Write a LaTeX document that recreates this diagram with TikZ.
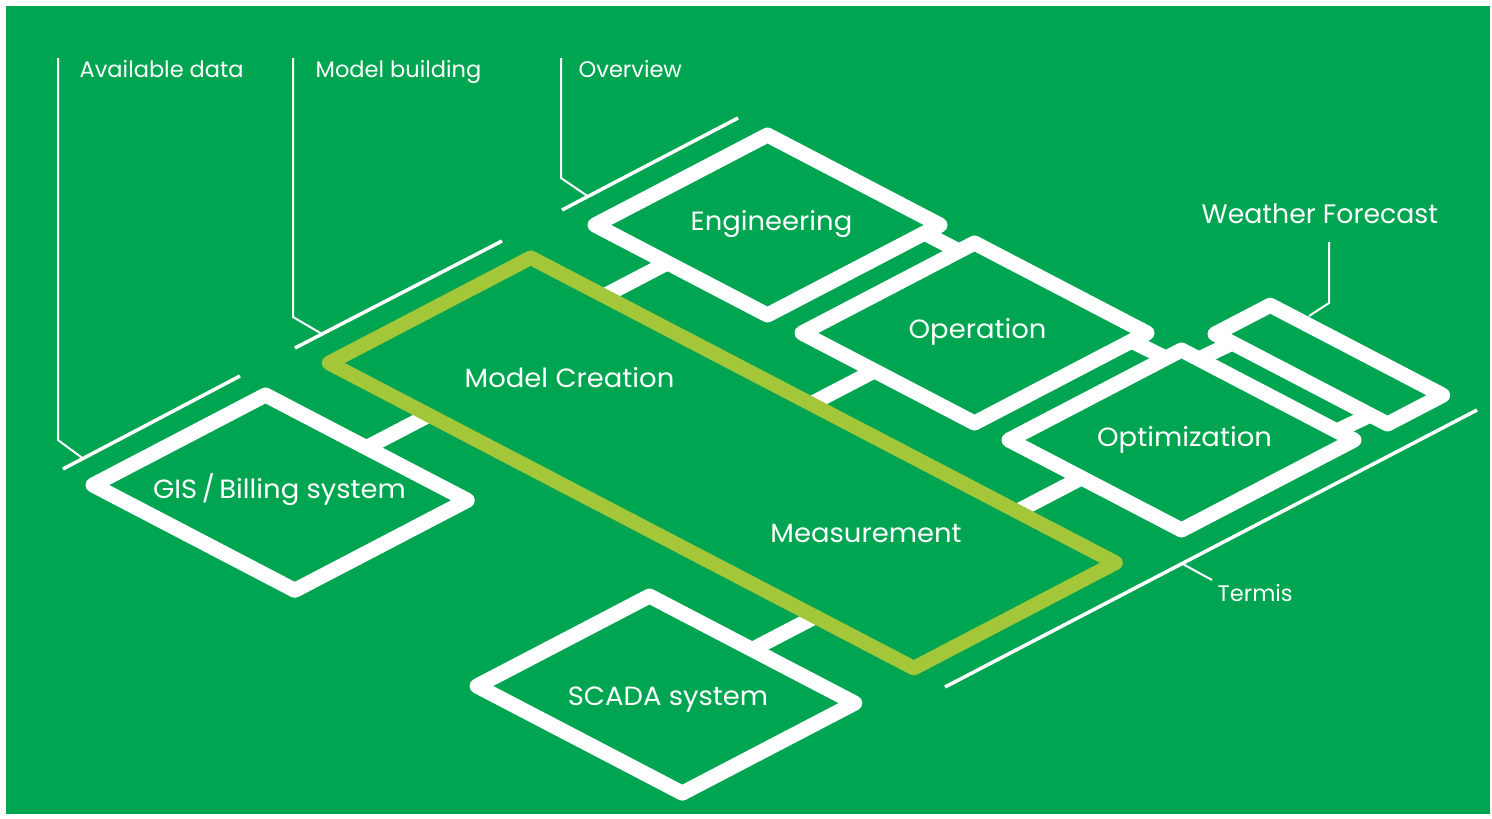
\documentclass[tikz,border=0pt]{standalone}
\usepackage{fontspec}
\setmainfont{Poppins}
\usetikzlibrary{calc}
\definecolor{bggreen}{RGB}{0,165,81}
\definecolor{limegreen}{RGB}{164,199,57}
\begin{document}
\begin{tikzpicture}[x=0.01cm,y=-0.01cm,
  boxline/.style={draw=white, line width=0.15cm, line join=round},
  linkbar/.style={draw=white, line width=0.15cm},
  limeline/.style={draw=limegreen, line width=0.145cm, line join=round},
  guideline/.style={draw=white, line width=0.035cm},
  leaderline/.style={draw=white, line width=0.02cm},
  boxlabel/.style={text=white, font=\fontsize{7.5}{9}\selectfont, xscale=1.04, inner sep=0pt, anchor=base},
  notelabel/.style={text=white, font=\fontsize{6.4}{7.5}\selectfont, inner sep=0pt, anchor=base west}]
\useasboundingbox (0,0) rectangle (1492,818);
\fill[bggreen] (6,6) rectangle (1490,814);

% ---- corner coordinates ----
\coordinate (E-l) at (595,225);   \coordinate (E-t) at (767.5,135);
\coordinate (E-r) at (940,225);   \coordinate (E-b) at (767.5,315);
\coordinate (O-l) at (802,333);   \coordinate (O-t) at (974.5,243);
\coordinate (O-r) at (1147,333);  \coordinate (O-b) at (974.5,423);
\coordinate (P-l) at (1009,440);  \coordinate (P-t) at (1181.5,350);
\coordinate (P-r) at (1354,440);  \coordinate (P-b) at (1181.5,530);
\coordinate (W-l) at (1215,334);  \coordinate (W-t) at (1270.2,305.2);
\coordinate (W-r) at (1442.7,395.2); \coordinate (W-b) at (1387.5,424);
\coordinate (M-l) at (329,363);   \coordinate (M-t) at (530.8,257.7);
\coordinate (M-r) at (1115.6,562.8); \coordinate (M-b) at (913.8,668.1);
\coordinate (G-l) at (93,485);    \coordinate (G-t) at (265.5,395);
\coordinate (G-r) at (467.3,500.3); \coordinate (G-b) at (294.8,590.3);
\coordinate (S-l) at (477,686);   \coordinate (S-t) at (649.5,596);
\coordinate (S-r) at (854.8,703.1); \coordinate (S-b) at (682.3,793.1);

% connector ends (to the lime frame)
\coordinate (cE) at (667.5,262.8);  \coordinate (mE) at (603.3,296.3);
\coordinate (cO) at (874.5,370.8);  \coordinate (mO) at (811,403.9);
\coordinate (cP) at (1081.5,477.8); \coordinate (mP) at (1017.2,511.4);
\coordinate (cG) at (366.4,447.7);  \coordinate (mG) at (428.5,415.3);
\coordinate (cS) at (752.1,649.6);  \coordinate (mS) at (815.2,616.7);
% connector ends between neighbouring boxes
\coordinate (eo1) at (924.5,233.1);  \coordinate (eo2) at (959,251.1);
\coordinate (op1) at (1131.5,341.1); \coordinate (op2) at (1166,358.1);
\coordinate (pw1) at (1198.8,359);   \coordinate (pw2) at (1232.3,343);
\coordinate (pw3) at (1336.8,431);   \coordinate (pw4) at (1370.3,415);

% ---- annotation guides ----
\coordinate (a1) at (63,469);  \coordinate (a2) at (240,376);
\coordinate (a0) at (58,58);   \coordinate (ak) at (58,440); \coordinate (ae) at (83,458.5);
\coordinate (b1) at (295,348); \coordinate (b2) at (502,241);
\coordinate (b0) at (293,58);  \coordinate (bk) at (293,317); \coordinate (be) at (322,334);
\coordinate (c1) at (562,210); \coordinate (c2) at (738,118);
\coordinate (c0) at (561,58);  \coordinate (ck) at (561,178); \coordinate (ce) at (588,196.4);
\coordinate (t1) at (945,687); \coordinate (t2) at (1477,410);
\coordinate (ts) at (1182,563.6); \coordinate (te) at (1212,580);
\coordinate (w0) at (1329,242); \coordinate (wk) at (1329,303); \coordinate (we) at (1309,316);

\draw[guideline] (a1) -- (a2);
\draw[guideline] (b1) -- (b2);
\draw[guideline] (c1) -- (c2);
\draw[guideline] (t1) -- (t2);
\draw[leaderline] (a0) -- (ak) -- (ae);
\draw[leaderline] (b0) -- (bk) -- (be);
\draw[leaderline] (c0) -- (ck) -- (ce);
\draw[leaderline] (ts) -- (te);
\draw[leaderline] (w0) -- (wk) -- (we);

% ---- connectors ----
\draw[linkbar] (cE) -- (mE);
\draw[linkbar] (cO) -- (mO);
\draw[linkbar] (cP) -- (mP);
\draw[linkbar] (cG) -- (mG);
\draw[linkbar] (cS) -- (mS);
\draw[linkbar] (eo1) -- (eo2);
\draw[linkbar] (op1) -- (op2);
\draw[linkbar] (pw1) -- (pw2);
\draw[linkbar] (pw3) -- (pw4);

% ---- boxes ----
\draw[boxline] (E-l) -- (E-t) -- (E-r) -- (E-b) -- cycle;
\draw[boxline] (O-l) -- (O-t) -- (O-r) -- (O-b) -- cycle;
\draw[boxline] (P-l) -- (P-t) -- (P-r) -- (P-b) -- cycle;
\draw[boxline] (W-l) -- (W-t) -- (W-r) -- (W-b) -- cycle;
\draw[boxline] (G-l) -- (G-t) -- (G-r) -- (G-b) -- cycle;
\draw[boxline] (S-l) -- (S-t) -- (S-r) -- (S-b) -- cycle;
\draw[limeline] (M-l) -- (M-t) -- (M-r) -- (M-b) -- cycle;

% ---- labels ----
\node[boxlabel] (Eng) at (771.5,230) {Engineering};
\node[boxlabel] (Ope) at (977.5,338) {Operation};
\node[boxlabel] (Opt) at (1184.5,446) {Optimization};
\node[boxlabel] (MC) at (569.5,387) {Model Creation};
\node[boxlabel] (Mea) at (866,542) {Measurement};
\node[boxlabel] (GIS) at (279.5,498) {GIS\,/\,Billing system};
\node[boxlabel] (SCA) at (668,705) {SCADA system};

\node[notelabel] (AD) at (79,77) {Available data};
\node[notelabel] (MB) at (315,77) {Model building};
\node[notelabel] (OV) at (578,77) {Overview};
\node[notelabel, font=\fontsize{7.6}{9}\selectfont] (WF) at (1201,223) {Weather Forecast};
\node[notelabel] (TE) at (1217,601) {Termis};
\end{tikzpicture}
\end{document}
